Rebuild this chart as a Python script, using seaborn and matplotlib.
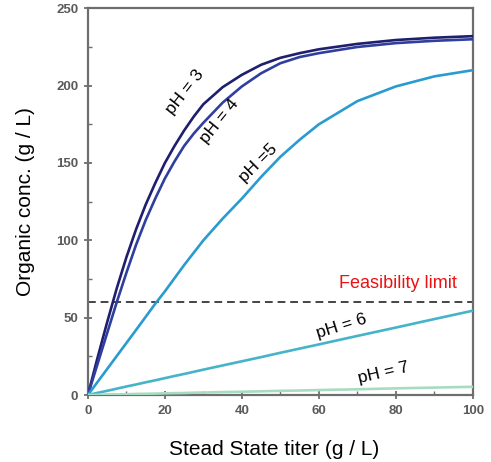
import matplotlib
matplotlib.use("Agg")
import matplotlib.pyplot as plt
from matplotlib.ticker import MultipleLocator
import pandas as pd
import seaborn as sns

# Steady-state titer (g/L)
titer = [0, 2.5, 5, 7.5, 10, 12.5, 15, 17.5, 20, 22.5, 25, 27.5, 30,
         35, 40, 45, 50, 55, 60, 70, 80, 90, 100]

# Organic-phase concentration (g/L) at each pH
org_ph3 = [0, 24, 47, 69, 89, 107, 123, 137, 150, 161, 171, 180, 188,
           199, 207, 213.5, 218, 221, 223.5, 227, 229.5, 231, 232]
org_ph4 = [0, 20, 40, 60, 79, 97, 113, 127, 140, 151, 161, 169, 176,
           189, 199.5, 208, 214.5, 218.5, 221, 225, 227.5, 229, 230]
org_ph5 = [0, 8.4, 16.8, 25.2, 33.6, 42, 50.5, 59, 67, 75.5, 84, 92, 100,
           114, 127, 141, 154, 165, 175, 190, 199.5, 206, 210]
org_ph6 = [0, 1.4, 2.7, 4.1, 5.5, 6.8, 8.2, 9.5, 10.9, 12.3, 13.6, 15, 16.4,
           19.1, 21.8, 24.5, 27.3, 30, 32.7, 38.2, 43.6, 49.1, 54.5]
org_ph7 = [0, 0.1, 0.3, 0.4, 0.5, 0.7, 0.8, 0.9, 1.1, 1.2, 1.3, 1.5, 1.6,
           1.9, 2.1, 2.4, 2.7, 2.9, 3.2, 3.7, 4.3, 4.8, 5.3]

series_names = ["pH 3", "pH 4", "pH 5", "pH 6", "pH 7"]
series_values = [org_ph3, org_ph4, org_ph5, org_ph6, org_ph7]
series_colors = ["#1f1f6e", "#2f3f9f", "#2a9bd0", "#45b4c8", "#a8dcc0"]

feasibility_limit = 60

df = pd.concat(
    [pd.DataFrame({"titer": titer, "organic": vals, "series": name})
     for name, vals in zip(series_names, series_values)],
    ignore_index=True,
)

sns.set_style("ticks")
plt.rcParams["font.family"] = ["Liberation Sans", "DejaVu Sans"]

fig = plt.figure(figsize=(4.91, 4.62), dpi=100)
ax = fig.add_axes([0.179, 0.145, 0.784, 0.837])

sns.lineplot(
    data=df, x="titer", y="organic", hue="series",
    palette=dict(zip(series_names, series_colors)),
    linewidth=1.9, legend=False, ax=ax, zorder=3,
)

ax.axhline(feasibility_limit, color="#444444", linestyle=(0, (4, 2.5)),
           linewidth=1.4, zorder=2)

ax.set_xlim(0, 100)
ax.set_ylim(0, 250)
ax.xaxis.set_major_locator(MultipleLocator(20))
ax.xaxis.set_minor_locator(MultipleLocator(10))
ax.yaxis.set_major_locator(MultipleLocator(50))
ax.yaxis.set_minor_locator(MultipleLocator(25))

for side in ["left", "right", "top", "bottom"]:
    ax.spines[side].set_visible(True)
    ax.spines[side].set_color("#6e6e6e")
    ax.spines[side].set_linewidth(1.6)

ax.tick_params(which="major", direction="inout", length=6, width=1.3,
               color="#6e6e6e", labelsize=9.5, labelcolor="#5a5a5a", pad=4)
ax.tick_params(which="minor", direction="in", length=3, width=1.0,
               color="#6e6e6e")
for lbl in ax.get_xticklabels() + ax.get_yticklabels():
    lbl.set_fontweight("bold")

ax.set_xlabel("Stead State titer (g / L)", fontsize=15, color="black")
ax.set_ylabel("Organic conc. (g / L)", fontsize=15, color="black")
ax.xaxis.set_label_coords(0.485, -0.116)
ax.yaxis.set_label_coords(-0.138, 0.5)

label_kw = dict(fontsize=12.5, color="black", ha="center", va="center",
                rotation_mode="anchor", zorder=4)
ax.text(25.2, 196, "pH = 3", rotation=52, **label_kw)
ax.text(34.1, 177, "pH = 4", rotation=51, **label_kw)
ax.text(44.2, 150, "pH =5", rotation=45, **label_kw)
ax.text(66.0, 44.6, "pH = 6", rotation=17, **label_kw)
ax.text(76.7, 14.2, "pH = 7", rotation=13, **label_kw)
ax.text(80.6, 72.4, "Feasibility limit", fontsize=13, color="#ee1111",
        ha="center", va="center")

fig.savefig("out.png", dpi=100)
